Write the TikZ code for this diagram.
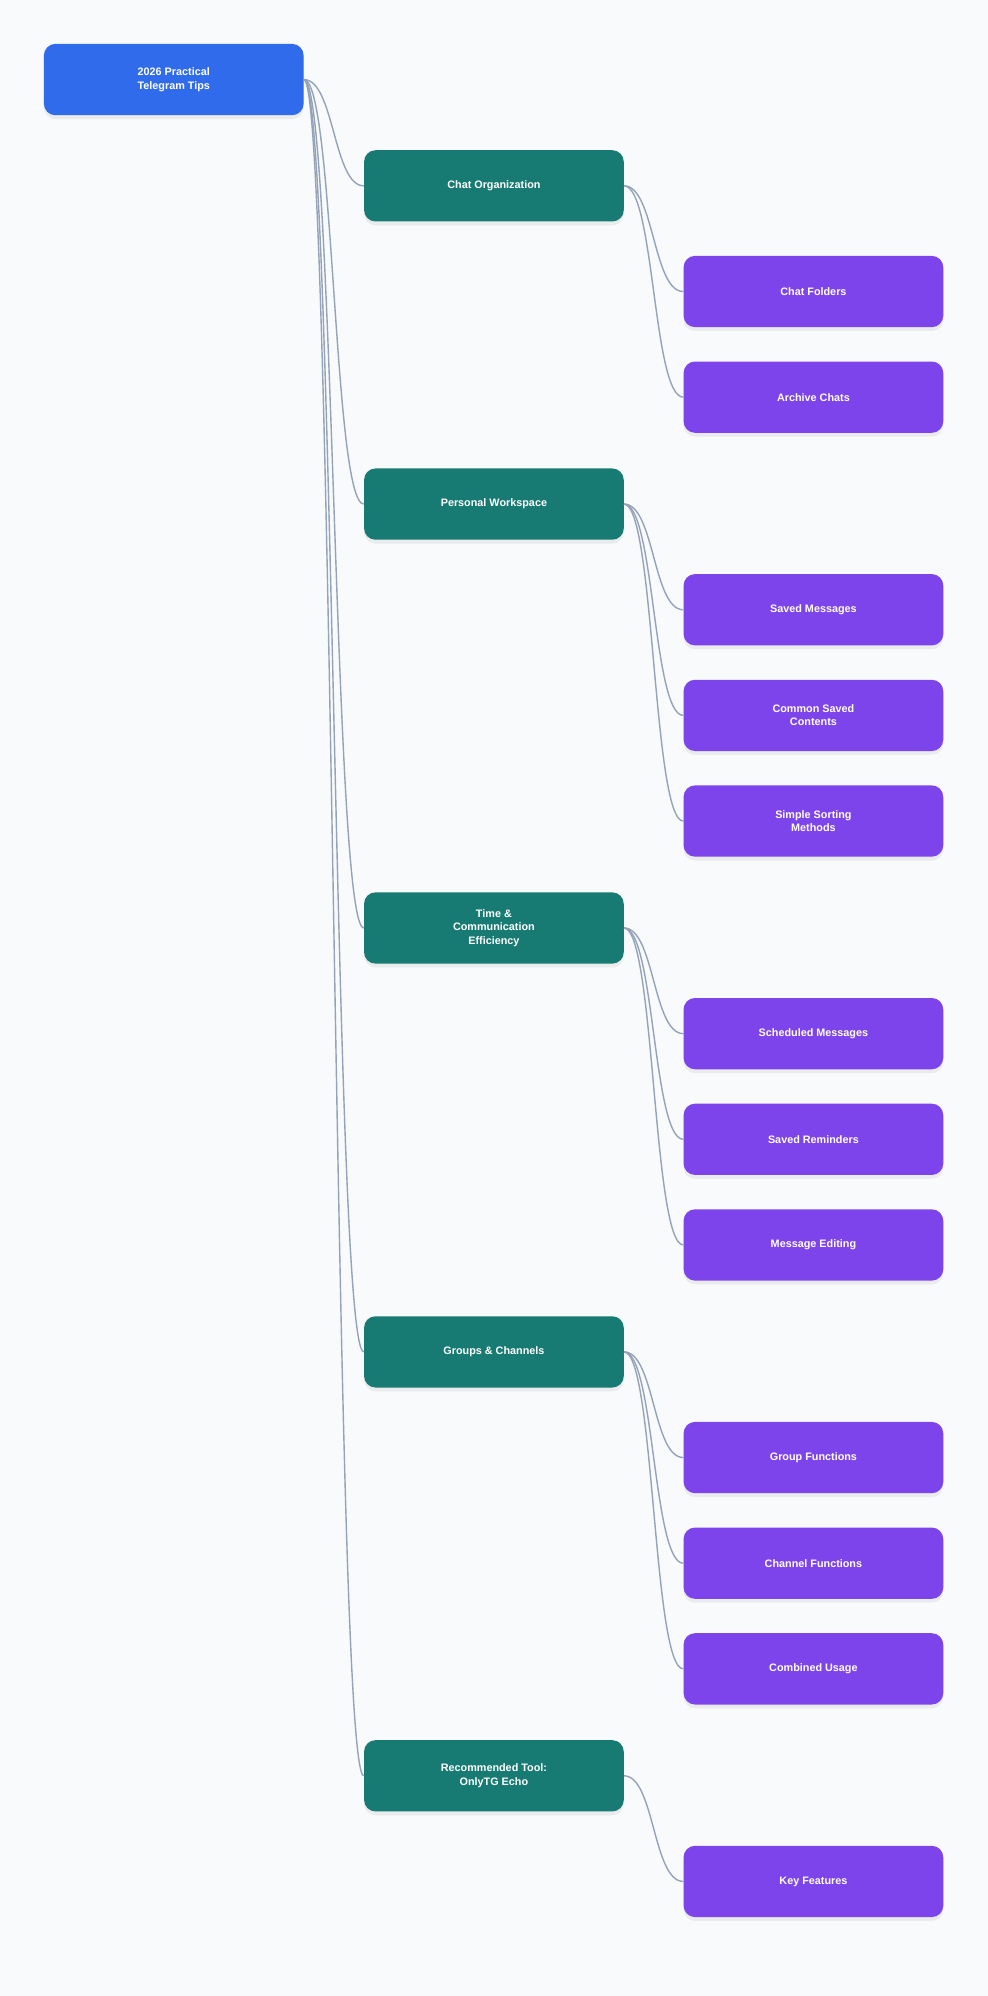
\documentclass[tikz,border=0pt]{standalone}
\usepackage{fontspec}
\setmainfont{Liberation Sans}
\usetikzlibrary{shadows}
\definecolor{bg}{HTML}{F8FAFC}
\definecolor{rootc}{HTML}{2F6BEA}
\definecolor{lone}{HTML}{177B73}
\definecolor{ltwo}{HTML}{7E44EC}
\definecolor{edge}{HTML}{94A3B8}
\begin{document}
\begin{tikzpicture}[x=1pt,y=-1pt,
  box/.style={rounded corners=9pt,minimum width=204pt,minimum height=56pt,text=white,
    font=\bfseries\fontsize{8.5}{10.5}\selectfont,align=center,inner sep=2pt,
    drop shadow={shadow xshift=0pt,shadow yshift=-3pt,opacity=0.12}},
  root/.style={box,fill=rootc},
  one/.style={box,fill=lone},
  two/.style={box,fill=ltwo},
  con/.style={draw=edge,line width=1.1pt}]
\fill[bg] (0,0) rectangle (776,1568);
\useasboundingbox (0,0) rectangle (776,1568);
\node[root] (r) at (136.5,62.5) {2026 Practical\\Telegram Tips};
\node[one] (a) at (388,146) {Chat Organization};
\node[one] (b) at (388,396) {Personal Workspace};
\node[one] (c) at (388,729) {Time \&\\Communication\\Efficiency};
\node[one] (d) at (388,1062) {Groups \& Channels};
\node[one] (e) at (388,1395) {Recommended Tool:\\OnlyTG Echo};
\node[two] (a1) at (639,229) {Chat Folders};
\node[two] (a2) at (639,312) {Archive Chats};
\node[two] (b1) at (639,479) {Saved Messages};
\node[two] (b2) at (639,562) {Common Saved\\Contents};
\node[two] (b3) at (639,645) {Simple Sorting\\Methods};
\node[two] (c1) at (639,812) {Scheduled Messages};
\node[two] (c2) at (639,895) {Saved Reminders};
\node[two] (c3) at (639,978) {Message Editing};
\node[two] (d1) at (639,1145) {Group Functions};
\node[two] (d2) at (639,1228) {Channel Functions};
\node[two] (d3) at (639,1311) {Combined Usage};
\node[two] (e1) at (639,1478) {Key Features};
\begin{scope}[on background layer/.try]
\foreach \p/\c in {r/a,r/b,r/c,r/d,r/e,a/a1,a/a2,b/b1,b/b2,b/b3,c/c1,c/c2,c/c3,d/d1,d/d2,d/d3,e/e1}{
  \draw[con] (\p.east) .. controls ([xshift=24pt]\p.east) and ([xshift=-24pt]\c.west) .. (\c.west);
}
\end{scope}
\end{tikzpicture}
\end{document}
